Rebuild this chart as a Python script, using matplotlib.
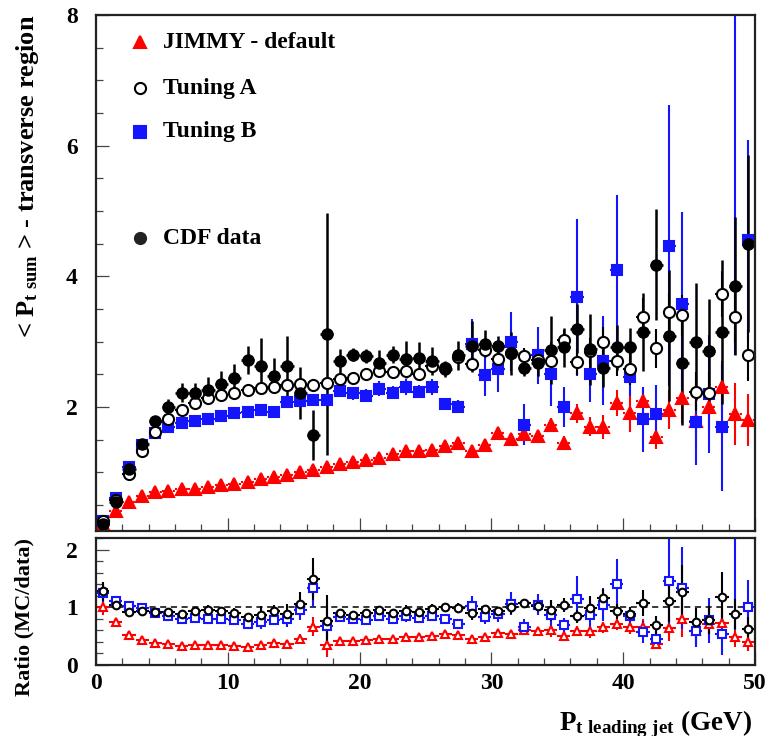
import matplotlib
matplotlib.use("Agg")
import matplotlib.pyplot as plt
import numpy as np
from matplotlib.ticker import MultipleLocator

# leading-jet pt bins, 1 GeV wide
BIN_CENTRES = np.arange(0.5, 50.0, 1.0)

CDF_DATA = [0.20, 0.55, 1.05, 1.43, 1.78, 2.00, 2.22, 2.21, 2.26, 2.35,
            2.45, 2.72, 2.63, 2.48, 2.62, 2.21, 1.57, 3.12, 2.70, 2.80,
            2.78, 2.68, 2.80, 2.73, 2.75, 2.70, 2.58, 2.79, 2.93, 2.97,
            2.93, 2.82, 2.60, 2.68, 2.87, 2.91, 3.20, 2.88, 2.60, 2.91,
            2.91, 3.15, 4.18, 3.09, 2.68, 3.00, 2.85, 3.15, 3.85, 4.50]
CDF_ERR = [0.02, 0.04, 0.05, 0.06, 0.08, 0.12, 0.14, 0.16, 0.20, 0.20,
           0.21, 0.22, 0.43, 0.27, 0.47, 0.40, 0.39, 1.85, 0.18, 0.10,
           0.10, 0.19, 0.13, 0.28, 0.24, 0.21, 0.12, 0.22, 0.39, 0.20,
           0.16, 0.33, 0.13, 0.20, 0.52, 0.30, 0.37, 0.55, 0.30, 0.35,
           0.30, 0.60, 0.85, 1.00, 0.95, 0.90, 0.80, 1.10, 1.05, 1.35]

JIMMY_DEFAULT = [0.20, 0.41, 0.54, 0.63, 0.69, 0.72, 0.74, 0.75, 0.77, 0.80,
                 0.82, 0.85, 0.90, 0.93, 0.96, 1.00, 1.04, 1.08, 1.13, 1.16,
                 1.19, 1.22, 1.28, 1.32, 1.32, 1.34, 1.40, 1.45, 1.32, 1.42,
                 1.60, 1.51, 1.58, 1.56, 1.73, 1.45, 1.90, 1.70, 1.69, 2.06,
                 1.91, 2.09, 1.54, 1.96, 2.13, 1.78, 2.00, 2.31, 1.89, 1.80]
JIMMY_ERR = [0.02, 0.02, 0.02, 0.02, 0.02, 0.02, 0.02, 0.02, 0.02, 0.02,
             0.02, 0.02, 0.02, 0.02, 0.02, 0.02, 0.02, 0.02, 0.02, 0.02,
             0.03, 0.03, 0.03, 0.03, 0.03, 0.03, 0.04, 0.04, 0.08, 0.08,
             0.08, 0.08, 0.08, 0.08, 0.10, 0.10, 0.15, 0.15, 0.18, 0.20,
             0.30, 0.20, 0.19, 0.30, 0.38, 0.40, 0.35, 0.40, 0.47, 0.40]

TUNING_A = [0.255, 0.57, 0.97, 1.33, 1.62, 1.82, 1.96, 2.06, 2.14, 2.18,
            2.22, 2.26, 2.29, 2.31, 2.33, 2.35, 2.34, 2.36, 2.43, 2.44,
            2.51, 2.55, 2.54, 2.55, 2.51, 2.62, 2.60, 2.76, 2.66, 2.87,
            2.73, 2.82, 2.78, 2.72, 2.71, 3.03, 2.69, 2.85, 3.00, 2.70,
            2.58, 3.37, 2.90, 3.45, 3.40, 2.23, 2.22, 3.73, 3.38, 2.80]
TUNING_A_ERR = [0.02, 0.02, 0.02, 0.02, 0.02, 0.03, 0.03, 0.03, 0.03, 0.03,
                0.03, 0.03, 0.03, 0.03, 0.03, 0.04, 0.04, 0.04, 0.05, 0.05,
                0.05, 0.05, 0.06, 0.06, 0.06, 0.08, 0.08, 0.08, 0.10, 0.10,
                0.10, 0.12, 0.12, 0.12, 0.15, 0.15, 0.20, 0.20, 0.22, 0.22,
                0.25, 0.30, 0.30, 0.30, 0.32, 0.30, 0.32, 0.35, 0.40, 0.40]

# bin 48.5 of tuning B sits above the top of the frame
TUNING_B = [0.25, 0.61, 1.08, 1.41, 1.60, 1.69, 1.75, 1.79, 1.82, 1.86,
            1.90, 1.92, 1.95, 1.92, 2.08, 2.09, 2.10, 2.10, 2.25, 2.21,
            2.17, 2.28, 2.22, 2.30, 2.23, 2.30, 2.04, 2.00, 2.97, 2.49,
            2.58, 3.00, 1.73, 2.79, 2.51, 2.00, 3.68, 2.51, 2.71, 4.10,
            2.46, 1.81, 1.89, 4.47, 3.58, 1.77, 2.20, 1.69, 8.90, 4.55]
TUNING_B_ERR = [0.02, 0.02, 0.02, 0.02, 0.02, 0.03, 0.03, 0.03, 0.03, 0.03,
                0.03, 0.03, 0.03, 0.03, 0.05, 0.05, 0.05, 0.05, 0.10, 0.10,
                0.10, 0.12, 0.10, 0.12, 0.10, 0.12, 0.08, 0.10, 0.38, 0.33,
                0.35, 0.45, 0.32, 0.44, 0.49, 0.31, 1.20, 0.44, 0.68, 1.14,
                0.30, 0.50, 0.45, 2.15, 1.40, 0.66, 0.90, 0.97, 6.10, 1.53]

RED = "#ff0000"
BLUE = "#1414ff"
BLACK = "black"
FONT = "Liberation Serif"


def ratio(mc, mc_err, data, data_err):
    mc, mc_err = np.asarray(mc), np.asarray(mc_err)
    data, data_err = np.asarray(data), np.asarray(data_err)
    r = mc / data
    err = r * np.sqrt((mc_err / mc) ** 2 + (data_err / data) ** 2)
    return r, err


def style_axes(ax, ymajor, yminor):
    for spine in ax.spines.values():
        spine.set_linewidth(1.6)
        spine.set_color("#222222")
    ax.xaxis.set_major_locator(MultipleLocator(10))
    ax.xaxis.set_minor_locator(MultipleLocator(2))
    ax.yaxis.set_major_locator(MultipleLocator(ymajor))
    ax.yaxis.set_minor_locator(MultipleLocator(yminor))
    ax.tick_params(which="both", direction="in", top=False, right=False,
                   width=0.9, color="#444444", labelsize=17)
    ax.tick_params(which="major", length=9.5)
    ax.tick_params(which="minor", length=5)
    ax.tick_params(axis="y", pad=13)
    ax.tick_params(axis="x", pad=6)
    ax.set_xlim(0, 50)


def draw_series(ax, y, yerr, color, marker, ms, mfc, dotted=False, lw=1.5):
    bars = ax.errorbar(BIN_CENTRES, y, xerr=0.5, fmt="none", ecolor=color,
                       elinewidth=lw, capsize=0)
    if dotted:
        bars.lines[2][0].set_linestyle((0, (1, 1.6)))
    ax.errorbar(BIN_CENTRES, y, yerr=yerr, fmt=marker, color=color,
                ms=ms, mfc=mfc, mec=color, mew=1.5, elinewidth=lw, capsize=0)


def main():
    plt.rcParams.update({
        "font.family": FONT,
        "font.weight": "bold",
        "mathtext.fontset": "custom",
        "mathtext.rm": "Liberation Serif:bold",
        "mathtext.it": "Liberation Serif:bold",
        "mathtext.bf": "Liberation Serif:bold",
    })

    fig = plt.figure(figsize=(7.66, 7.36), dpi=100)
    ax = fig.add_axes([0.1253, 0.2785, 0.8603, 0.7011])
    ax_r = fig.add_axes([0.1253, 0.0965, 0.8603, 0.1725])

    # main panel
    draw_series(ax, JIMMY_DEFAULT, JIMMY_ERR, RED, "^", 8, RED, dotted=True)
    draw_series(ax, TUNING_B, TUNING_B_ERR, BLUE, "s", 7, BLUE)
    draw_series(ax, TUNING_A, TUNING_A_ERR, BLACK, "o", 8, "white")
    draw_series(ax, CDF_DATA, CDF_ERR, BLACK, "o", 7.5, BLACK, lw=1.8)
    style_axes(ax, 2, 0.5)
    ax.set_ylim(0.1, 8.0)
    ax.tick_params(labelbottom=False)

    legend_rows = [
        ("JIMMY - default", "^", RED, RED, 0.9477),
        ("Tuning A", "o", "white", BLACK, 0.8585),
        ("Tuning B", "s", BLUE, BLUE, 0.7733),
        ("CDF data", "o", "#222222", "#222222", 0.5678),
    ]
    for label, marker, face, edge, ypos in legend_rows:
        ax.plot([0.0668], [ypos], marker=marker, ms=8, mfc=face, mec=edge,
                mew=1.5, transform=ax.transAxes, clip_on=False)
        ax.text(0.1017, ypos, label, transform=ax.transAxes, fontsize=17,
                fontweight="bold", va="center", ha="left")

    # ratio panel
    r_jimmy, e_jimmy = ratio(JIMMY_DEFAULT, JIMMY_ERR, CDF_DATA, CDF_ERR)
    r_b, e_b = ratio(TUNING_B, TUNING_B_ERR, CDF_DATA, CDF_ERR)
    r_a, e_a = ratio(TUNING_A, TUNING_A_ERR, CDF_DATA, CDF_ERR)
    ax_r.axhline(1.0, color=BLACK, lw=1.1, ls=(0, (4, 3)), zorder=1)
    draw_series(ax_r, r_jimmy, e_jimmy, RED, "^", 5.5, "white")
    draw_series(ax_r, r_b, e_b, BLUE, "s", 5.5, "white")
    draw_series(ax_r, r_a, e_a, BLACK, "o", 5.5, "white")
    style_axes(ax_r, 1, 0.2)
    ax_r.set_ylim(0, 2.2)

    fig.text(0.036, 0.9796, r"< P$_{\mathrm{t\ sum}}$ > - transverse region",
             rotation=90, ha="center", va="top", fontsize=19, fontweight="bold")
    fig.text(0.032, 0.269, "Ratio (MC/data)", rotation=90, ha="center",
             va="top", fontsize=16, fontweight="bold")
    fig.text(0.982, 0.008, r"P$_{\mathrm{t\ leading\ jet}}$ (GeV)",
             ha="right", va="baseline", fontsize=19.5, fontweight="bold")

    fig.savefig("out.png", dpi=100)


if __name__ == "__main__":
    main()
